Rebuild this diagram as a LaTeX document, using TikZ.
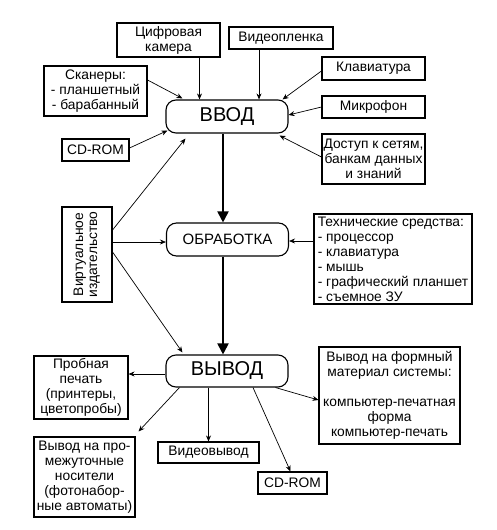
\documentclass[tikz,border=0pt]{standalone}
\usepackage{fontspec}
\setmainfont{Liberation Sans}
\usetikzlibrary{arrows.meta}
\begin{document}
\begin{tikzpicture}[x=1pt,y=-1pt,
  box/.style={draw,line width=1.1pt,inner sep=1pt,align=center,font=\fontsize{13.8}{15}\selectfont},
  main/.style={draw,line width=1.1pt,rounded corners=10pt,inner sep=0pt,minimum width=122pt,minimum height=33pt},
  ar/.style={line width=0.7pt,-{Stealth[length=6pt,width=5pt]}},
  bigar/.style={line width=1.9pt,-{Triangle[length=11pt,width=11pt]}}]
\useasboundingbox (0,0) rectangle (496,530);
% main nodes
\node[main,font=\fontsize{20}{22}\selectfont] (vvod) at (227,116.5) {ВВОД};
\node[main,font=\fontsize{15}{17}\selectfont] (obr) at (227.5,239.5) {ОБРАБОТКА};
\node[main,font=\fontsize{20}{22}\selectfont,minimum height=32pt] (vyvod) at (227,371) {ВЫВОД};
% input boxes
\node[box,minimum width=103pt,minimum height=34pt] (cam) at (168.5,40) {Цифровая\\камера};
\node[box,minimum width=103pt,minimum height=50pt] (scan) at (95.5,91) {Сканеры:\\- планшетный\\- барабанный};
\node[box,minimum width=67pt,minimum height=22pt] (cd1) at (95.5,150) {CD-ROM};
\node[box,minimum width=104pt,minimum height=22pt] (video) at (281,38) {Видеопленка};
\node[box,minimum width=103pt,minimum height=23pt] (klav) at (373.5,68.5) {Клавиатура};
\node[box,minimum width=103pt,minimum height=22pt] (mic) at (373.5,107) {Микрофон};
\node[box,minimum width=103pt,minimum height=50pt] (dost) at (373.5,159) {Доступ к сетям,\\банкам данных\\и знаний};
\node[box,minimum width=50pt,minimum height=95pt] (virt) at (87,254.5) {\rotatebox{90}{\begin{tabular}{@{}c@{}}Виртуальное\\[-1pt]издательство\end{tabular}}};
\node[box,minimum width=158pt,minimum height=90pt,align=left] (tech) at (393,259) {Технические средства:\\- процессор\\- клавиатура\\- мышь\\- графический планшет\\- съемное ЗУ};
% output boxes
\node[box,minimum width=141pt,minimum height=97pt] (form) at (389.5,395.5) {Вывод на формный\\материал системы:\\[15pt]компьютер-печатная\\форма\\компьютер-печать};
\node[box,minimum width=94pt,minimum height=63pt] (prob) at (81,387.5) {Пробная\\печать\\(принтеры,\\цветопробы)};
\node[box,minimum width=101pt,minimum height=80pt] (prom) at (84.5,477) {Вывод на про-\\межуточные\\носители\\(фотонабор-\\ные автоматы)};
\node[box,minimum width=101pt,minimum height=21pt] (vidv) at (208.5,452.5) {Видеовывод};
\node[box,minimum width=69pt,minimum height=22pt] (cd2) at (292.5,483) {CD-ROM};
% main flow
\draw[bigar] ([xshift=-4pt]vvod.south) -- ([xshift=-4.5pt]obr.north);
\draw[bigar] ([xshift=-4.5pt]obr.south) -- ([xshift=-4pt]vyvod.north);
% inputs
\coordinate (c1) at ([xshift=31pt]cam.south);
\draw[ar] (c1) -- (c1 |- vvod.north);
\draw[ar] ([yshift=11pt]scan.east) -- ([xshift=17pt,yshift=1pt]vvod.north west);
\draw[ar] ([yshift=2pt]cd1.east) -- ([xshift=2pt,yshift=3pt]vvod.south west);
\coordinate (c2) at ([xshift=-22pt]video.south);
\draw[ar] (c2) -- (c2 |- vvod.north);
\draw[ar] ([yshift=-2.5pt]klav.west) -- ([xshift=-6pt]vvod.north east);
\draw[ar] (mic.west) -- ([yshift=1.5pt]vvod.east);
\draw[ar] ([yshift=2pt]dost.west) -- ([xshift=-9pt,yshift=-2pt]vvod.south east);
% virtual
\draw[ar] ([yshift=24.5pt]virt.east) -- ([xshift=20pt,yshift=-5pt]vvod.south west);
\coordinate (v2) at ([yshift=12.5pt]virt.east);
\draw[ar] (v2) -- (v2 -| obr.west);
\draw[ar] ([yshift=2.5pt]virt.east) -- ([xshift=17pt,yshift=2pt]vyvod.north west);
% tech
\coordinate (t1) at ([yshift=18pt]tech.west);
\draw[ar] (t1) -- (t1 -| obr.east);
% outputs
\coordinate (o1) at ([yshift=-3pt]vyvod.west);
\draw[ar] (o1) -- (o1 -| prob.east);
\draw[ar] ([xshift=14pt]vyvod.south west) -- ([xshift=3pt,yshift=5pt]prom.north east);
\draw[ar] (vidv.north |- vyvod.south) -- (vidv.north);
\draw[ar] ([xshift=26pt]vyvod.south) -- ([xshift=-2pt]cd2.north);
\draw[ar] ([xshift=-13pt]vyvod.south east) -- ([yshift=-4.5pt]form.west);
\end{tikzpicture}
\end{document}
